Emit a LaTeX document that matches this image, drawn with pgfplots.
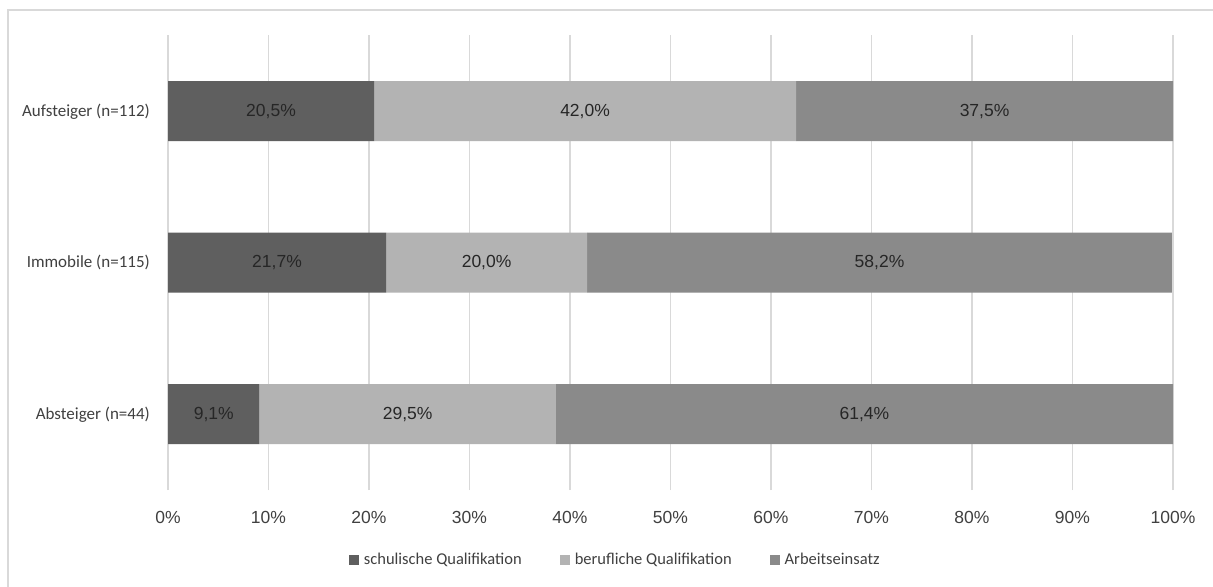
\documentclass[border=0pt]{standalone}
\usepackage{fontspec}
\setmainfont{Liberation Sans}
\newfontfamily\calibri{Carlito}
\usepackage{pgfplots}
\pgfplotsset{compat=1.18}

\definecolor{schul}{HTML}{5F5F5F}
\definecolor{beruf}{HTML}{B3B3B3}
\definecolor{arbeit}{HTML}{8A8A8A}
\definecolor{gridgray}{HTML}{D9D9D9}
\definecolor{labelgray}{HTML}{404040}
\definecolor{valuetext}{HTML}{262626}

\begin{document}
\begin{tikzpicture}
\useasboundingbox (0,0) rectangle (1213bp,587bp);
\fill[white] (0,0) rectangle (1213bp,587bp);
% chart area frame (top and left edges)
\draw[gridgray, line width=2bp] (8bp,0) -- (8bp,577bp) -- (1213bp,577bp);
\begin{axis}[
  at={(168bp,97bp)}, anchor=south west,
  scale only axis, width=1005bp, height=454.5bp,
  xbar stacked, bar width=60bp,
  xmin=0, xmax=100, ymin=-0.5, ymax=2.5,
  xtick={0,10,...,100},
  xticklabels={0\%,10\%,20\%,30\%,40\%,50\%,60\%,70\%,80\%,90\%,100\%},
  ytick={0,1,2},
  yticklabels={Absteiger (n=44),Immobile (n=115),Aufsteiger (n=112)},
  xmajorgrids, major grid style={gridgray, line width=1.5bp},
  axis line style={draw=none}, major tick length=0pt,
  xticklabel style={font=\fontsize{17.5bp}{20bp}\selectfont, text=labelgray, anchor=center, yshift=-27bp},
  yticklabel style={font=\calibri\fontsize{17bp}{20bp}\selectfont, text=labelgray, anchor=east, inner sep=0pt, xshift=-18bp},
  % segment values, printed with a decimal comma in the middle of each segment
  nodes near coords={\pgfmathprintnumber[fixed, fixed zerofill, precision=1, use comma, assume math mode=true]{\pgfplotspointmeta}\%},
  every node near coord/.append style={font=\fontsize{17.5bp}{20bp}\selectfont, text=valuetext},
  legend columns=3,
  legend style={at={(0.445,-0.154)}, anchor=center, draw=none, fill=none,
    font=\calibri\fontsize{16.5bp}{18bp}\selectfont, text=labelgray,
    /tikz/every odd column/.append style={column sep=3bp},
    /tikz/every even column/.append style={column sep=36bp}},
  legend image code/.code={\fill[#1] (0bp,-5bp) rectangle (10bp,5bp);},
]
\addplot[fill=schul, draw=none] coordinates {(9.1,0) (21.7,1) (20.5,2)};
\addplot[fill=beruf, draw=none] coordinates {(29.5,0) (20.0,1) (42.0,2)};
\addplot[fill=arbeit, draw=none] coordinates {(61.4,0) (58.2,1) (37.5,2)};
\legend{schulische Qualifikation, berufliche Qualifikation, Arbeitseinsatz}
\end{axis}
\end{tikzpicture}
\end{document}
